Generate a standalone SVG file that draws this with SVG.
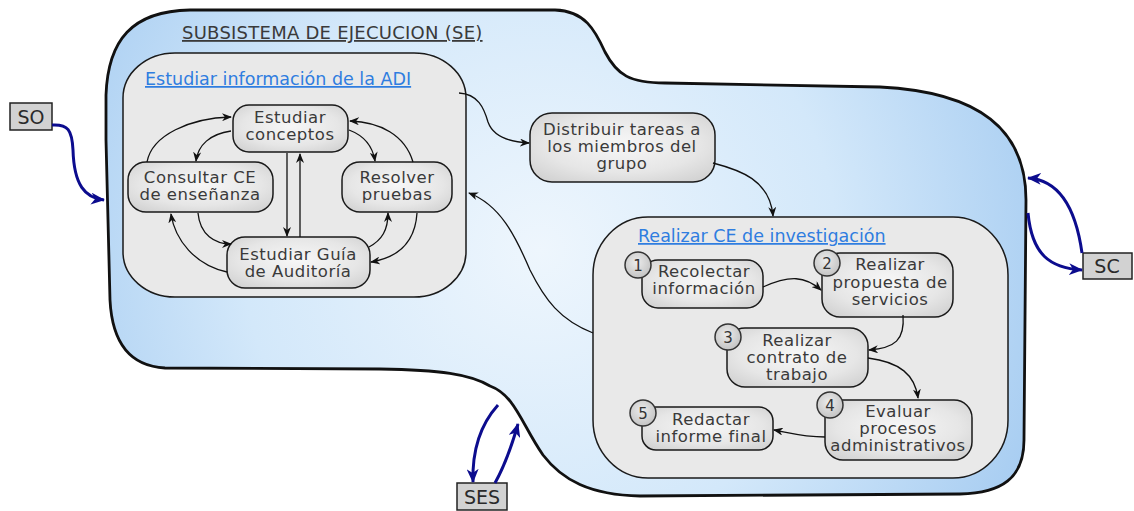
<svg xmlns="http://www.w3.org/2000/svg" width="1134" height="511" viewBox="0 0 1134 511">
  <defs>
    <radialGradient id="seFill" gradientUnits="userSpaceOnUse" cx="540" cy="250" r="540">
      <stop offset="0" stop-color="#eef6fd"/>
      <stop offset="0.55" stop-color="#d3e8fa"/>
      <stop offset="1" stop-color="#a6ccf1"/>
    </radialGradient>
    <radialGradient id="nodeFill" cx="0.5" cy="0.45" r="0.7">
      <stop offset="0" stop-color="#f7f7f7"/>
      <stop offset="0.6" stop-color="#e6e6e6"/>
      <stop offset="1" stop-color="#cfcfcf"/>
    </radialGradient>
    <radialGradient id="numFill" cx="0.45" cy="0.4" r="0.7">
      <stop offset="0" stop-color="#ececec"/>
      <stop offset="1" stop-color="#bdbdbd"/>
    </radialGradient>
    <marker id="arr" viewBox="0 0 10 8" refX="9" refY="4" markerWidth="10" markerHeight="8" markerUnits="userSpaceOnUse" orient="auto">
      <path d="M0,0 L10,4 L0,8 L3,4 z" fill="#111"/>
    </marker>
    <marker id="arrBlue" viewBox="0 0 14 12" refX="13" refY="6" markerWidth="14" markerHeight="12" markerUnits="userSpaceOnUse" orient="auto">
      <path d="M0,0 L14,6 L0,12 L4,6 z" fill="#0c0c8e"/>
    </marker>
    <style>
      .txt { font-family: "DejaVu Sans", Verdana, sans-serif; font-size: 16.5px; letter-spacing: 0.5px; fill: #3a3a3a; text-anchor: middle; }
      .title { font-family: "DejaVu Sans", Verdana, sans-serif; font-size: 18px; letter-spacing: 0.25px; fill: #3a3a3a; text-decoration: underline; }
      .link { font-family: "DejaVu Sans", Verdana, sans-serif; font-size: 17.5px; fill: #2f7de0; text-decoration: underline; }
      .node { fill: url(#nodeFill); stroke: #1a1a1a; stroke-width: 1.5; }
      .box { fill: #e9e9e9; stroke: #1a1a1a; stroke-width: 1.5; }
      .num { fill: url(#numFill); stroke: #333; stroke-width: 1.5; }
      .numtxt { font-family: "DejaVu Sans", Verdana, sans-serif; font-size: 15px; fill: #333; text-anchor: middle; }
      .ext { fill: #d2d2d2; stroke: #222; stroke-width: 1.5; }
      .exttxt { font-family: "DejaVu Sans", Verdana, sans-serif; font-size: 19px; fill: #2a2a2a; text-anchor: middle; }
      .conn { fill: none; stroke: #111; stroke-width: 1.3; marker-end: url(#arr); }
      .flow { fill: none; stroke: #0c0c8e; stroke-width: 3; marker-end: url(#arrBlue); }
    </style>
  </defs>

  <!-- Execution subsystem outline -->
  <g id="se">
    <path d="M106,140 L106,95 C108,40 132,11 190,10 L555,10 C585,11 595,30 605,52 C617,75 630,83 665,83 L880,87 C980,92 1026,130 1026,200 L1024,440 C1024,478 1002,493 960,494 L640,496 C590,495 562,480 543,455 C522,425 515,395 490,386 C470,374 440,370 380,369 L165,368 C128,366 112,340 110,300 Z" fill="url(#seFill)" stroke="#111" stroke-width="2.8"/>
    <text class="title" x="182" y="39">SUBSISTEMA DE EJECUCION (SE)</text>
  </g>

  <!-- Group: study the ADI information -->
  <g id="estudiar-adi">
    <rect class="box" x="123" y="53" width="343" height="244" rx="52" ry="45"/>
    <text class="link" x="145" y="85">Estudiar información de la ADI</text>
  </g>
  <g id="estudiar-conceptos">
    <rect class="node" x="233" y="105" width="115" height="47" rx="16"/>
    <text class="txt" x="290" y="123">Estudiar</text>
    <text class="txt" x="290" y="140">conceptos</text>
  </g>
  <g id="consultar-ce">
    <rect class="node" x="128" y="162" width="145" height="50" rx="18"/>
    <text class="txt" x="200" y="183">Consultar CE</text>
    <text class="txt" x="200" y="200">de enseñanza</text>
  </g>
  <g id="resolver-pruebas">
    <rect class="node" x="342" y="162" width="110" height="50" rx="18"/>
    <text class="txt" x="397" y="183">Resolver</text>
    <text class="txt" x="397" y="200">pruebas</text>
  </g>
  <g id="estudiar-guia">
    <rect class="node" x="227" y="237" width="143" height="51" rx="18"/>
    <text class="txt" x="298" y="260">Estudiar Guía</text>
    <text class="txt" x="298" y="277">de Auditoría</text>
  </g>

  <g id="distribuir-tareas">
    <rect class="node" x="530" y="113" width="185" height="69" rx="22"/>
    <text class="txt" x="622" y="135">Distribuir tareas a</text>
    <text class="txt" x="622" y="152">los miembros del</text>
    <text class="txt" x="622" y="169">grupo</text>
  </g>

  <!-- Group: research tasks -->
  <g id="realizar-ce">
    <rect class="box" x="593" y="217" width="415" height="261" rx="55" ry="58"/>
    <text class="link" x="638" y="242">Realizar CE de investigación</text>
  </g>
  <g id="recolectar">
    <rect class="node" x="642" y="260" width="121" height="48" rx="16"/>
    <text class="txt" x="704" y="277">Recolectar</text>
    <text class="txt" x="704" y="294">información</text>
    <circle class="num" cx="638" cy="265" r="13"/>
    <text class="numtxt" x="638" y="270.5">1</text>
  </g>
  <g id="propuesta">
    <rect class="node" x="822" y="253" width="131" height="64" rx="18"/>
    <text class="txt" x="890" y="270">Realizar</text>
    <text class="txt" x="890" y="288">propuesta de</text>
    <text class="txt" x="890" y="305">servicios</text>
    <circle class="num" cx="827" cy="263" r="13"/>
    <text class="numtxt" x="827" y="268.5">2</text>
  </g>
  <g id="contrato">
    <rect class="node" x="727" y="328" width="141" height="59" rx="18"/>
    <text class="txt" x="797" y="346">Realizar</text>
    <text class="txt" x="797" y="363">contrato de</text>
    <text class="txt" x="797" y="380">trabajo</text>
    <circle class="num" cx="728" cy="337" r="13"/>
    <text class="numtxt" x="728" y="342.5">3</text>
  </g>
  <g id="evaluar">
    <rect class="node" x="825" y="400" width="147" height="60" rx="18"/>
    <text class="txt" x="898" y="417">Evaluar</text>
    <text class="txt" x="898" y="434">procesos</text>
    <text class="txt" x="898" y="451">administrativos</text>
    <circle class="num" cx="830" cy="405" r="13"/>
    <text class="numtxt" x="830" y="410.5">4</text>
  </g>
  <g id="redactar">
    <rect class="node" x="642" y="407" width="131" height="43" rx="14"/>
    <text class="txt" x="711" y="425">Redactar</text>
    <text class="txt" x="711" y="442">informe final</text>
    <circle class="num" cx="643" cy="413" r="13"/>
    <text class="numtxt" x="643" y="418.5">5</text>
  </g>

  <!-- External subsystems -->
  <g id="so">
    <rect class="ext" x="10" y="103" width="42" height="27"/>
    <text class="exttxt" x="31" y="124">SO</text>
  </g>
  <g id="sc">
    <rect class="ext" x="1083" y="253" width="49" height="26"/>
    <text class="exttxt" x="1107" y="273">SC</text>
  </g>
  <g id="ses">
    <rect class="ext" x="457" y="483" width="50" height="27"/>
    <text class="exttxt" x="482" y="504">SES</text>
  </g>

  <!-- Connectors -->
  <g id="connectors">
    <path class="conn" d="M147,162 C152,135 190,118 231,117"/>
    <path class="conn" d="M231,131 C210,134 198,145 196,161"/>
    <path class="conn" d="M349,130 C365,136 373,148 375,161"/>
    <path class="conn" d="M413,162 C405,135 380,122 350,121"/>
    <path class="conn" d="M198,213 C200,235 215,244 231,244"/>
    <path class="conn" d="M227,272 C195,265 175,240 171,214"/>
    <path class="conn" d="M369,247 C382,240 388,230 388,213"/>
    <path class="conn" d="M417,213 C415,245 395,258 371,262"/>
    <path class="conn" d="M287,153 L287,236"/>
    <path class="conn" d="M300,237 L300,154"/>

    <path class="conn" d="M459,93 C478,94 484,108 488,122 C493,136 508,142 529,143"/>
    <path class="conn" d="M713,163 C740,170 770,180 773,216"/>
    <path class="conn" d="M593,333 C560,320 545,300 530,270 C515,235 500,205 469,193"/>

    <path class="conn" d="M763,287 C790,275 805,276 821,290"/>
    <path class="conn" d="M903,315 C905,340 895,348 869,350"/>
    <path class="conn" d="M868,358 C900,362 915,375 918,398"/>
    <path class="conn" d="M825,437 C805,437 790,433 774,430"/>

    <path class="flow" d="M52,125 C68,124 72,130 73,150 C74,185 85,198 104,200"/>
    <path class="flow" d="M1082,253 C1076,210 1060,180 1028,178"/>
    <path class="flow" d="M1028,213 C1032,255 1050,268 1082,270"/>
    <path class="flow" d="M498,405 C480,425 472,450 473,482"/>
    <path class="flow" d="M495,483 C505,465 512,445 518,424"/>
  </g>
</svg>
